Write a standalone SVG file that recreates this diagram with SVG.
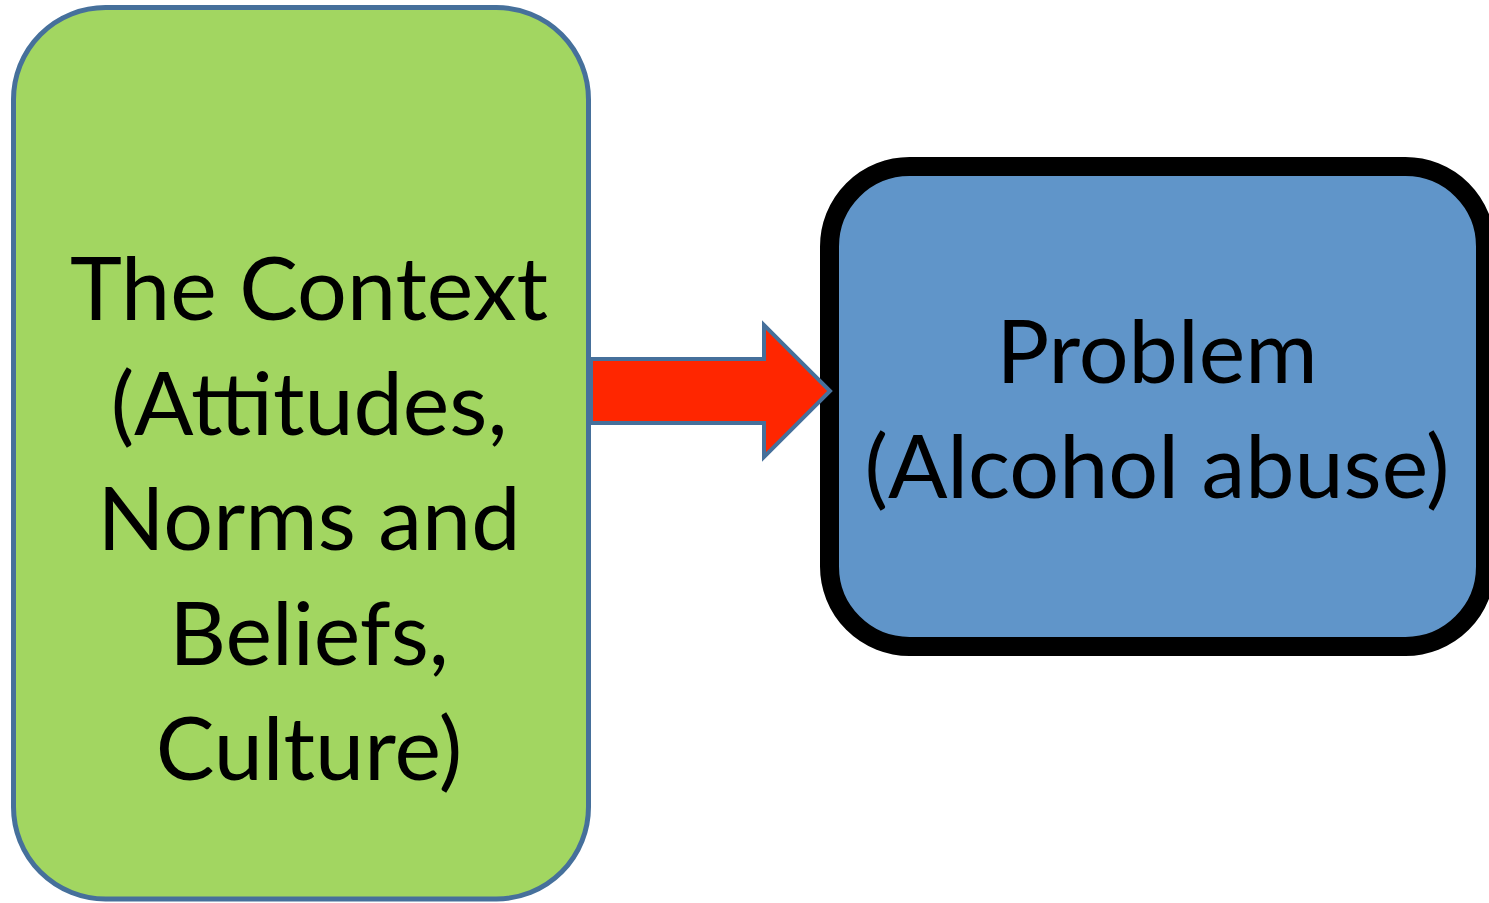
<svg xmlns="http://www.w3.org/2000/svg" width="1489" height="903" viewBox="0 0 1489 903">
  <style>
    .label { font-family: Lato, "Open Sans", "Liberation Sans", sans-serif; font-size: 88px; fill: #000000; text-anchor: middle; }
    .context { fill: #a2d661; stroke: #46709b; stroke-width: 5; }
    .problem { fill: #6095c9; stroke: #000000; stroke-width: 19; }
    .flow { fill: #ff2600; stroke: #46709b; stroke-width: 4; stroke-linejoin: miter; }
  </style>

  <!-- left node: context -->
  <g id="context">
    <rect class="context" x="13.5" y="7.5" width="575" height="891.5" rx="92" ry="92"/>
    <text class="label" x="309" y="320">The Context</text>
    <text class="label" x="309" y="435">(Attitudes,</text>
    <text class="label" x="309" y="550">Norms and</text>
    <text class="label" x="309" y="665">Beliefs,</text>
    <text class="label" x="309" y="780">Culture)</text>
  </g>

  <!-- right node: problem -->
  <g id="problem">
    <rect class="problem" x="829.5" y="166.5" width="656" height="480" rx="80" ry="80"/>
    <text class="label" x="1157" y="383">Problem</text>
    <text class="label" x="1157" y="498">(Alcohol abuse)</text>
  </g>

  <!-- connector: block arrow from context to problem -->
  <g id="connectors">
    <polygon class="flow" points="591,359 764,359 764,325 830,391 764,457 764,423 591,423"/>
  </g>
</svg>
